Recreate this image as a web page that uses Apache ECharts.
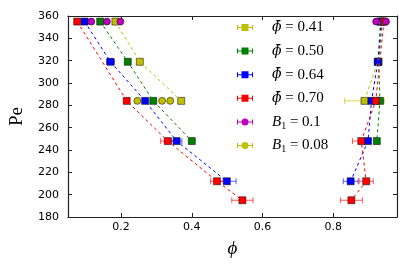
<!DOCTYPE html>
<html><head><meta charset="utf-8">
<script src="https://cdn.jsdelivr.net/npm/echarts@6/dist/echarts.min.js"></script>
<style>html,body{margin:0;padding:0;background:#fff}#c{width:407px;height:271px}</style>
</head><body><div id="c"></div>
<script>
// ---- data ----
const xTickValues = [0.2, 0.4, 0.6, 0.8];
const xMin = 0.05, xMax = 0.98;
const yMin = 180, yMax = 360, yStep = 20;

// phi_bar = 0.41 (yellow squares)
const pe041 = [355, 319, 284];
const left041 = [0.184, 0.253, 0.370];
const leftErr041 = [0.004, 0.004, 0.005];
const right041 = [0.932, 0.926, 0.888];
const rightErr041 = [0.004, 0.006, 0.056];

// phi_bar = 0.50 (green squares)
const pe050 = [355, 319, 284, 248];
const left050 = [0.141, 0.219, 0.291, 0.400];
const leftErr050 = [0.004, 0.004, 0.005, 0.006];
const right050 = [0.938, 0.928, 0.932, 0.923];
const rightErr050 = [0.004, 0.006, 0.006, 0.006];

// phi_bar = 0.64 (blue squares)
const pe064 = [355, 319, 284, 248, 212];
const left064 = [0.097, 0.170, 0.268, 0.357, 0.499];
const leftErr064 = [0.004, 0.011, 0.006, 0.015, 0.026];
const right064 = [0.935, 0.926, 0.908, 0.898, 0.849];
const rightErr064 = [0.004, 0.010, 0.006, 0.008, 0.021];

// phi_bar = 0.70 (red squares)
const pe070 = [355, 284, 248, 212, 195];
const left070 = [0.076, 0.216, 0.332, 0.471, 0.543];
const leftErr070 = [0.004, 0.006, 0.020, 0.018, 0.030];
const right070 = [0.943, 0.920, 0.879, 0.893, 0.851];
const rightErr070 = [0.004, 0.010, 0.025, 0.020, 0.031];

// B1 = 0.1 (magenta circles)
const peB10 = [355, 355, 355, 355, 355];
const phiB10 = [0.116, 0.160, 0.198, 0.921, 0.949];
const errB10 = [0.004, 0.004, 0.004, 0.004, 0.004];

// B1 = 0.08 (olive circles)
const peB08 = [284, 284, 284];
const phiB08 = [0.246, 0.316, 0.339];
const errB08 = [0.004, 0.004, 0.004];

const groups = [
  {key: 'p041', color: '#bfbf00', pe: pe041, left: left041, le: leftErr041, right: right041, re: rightErr041},
  {key: 'p050', color: '#008000', pe: pe050, left: left050, le: leftErr050, right: right050, re: rightErr050},
  {key: 'p064', color: '#0000ff', pe: pe064, left: left064, le: leftErr064, right: right064, re: rightErr064},
  {key: 'p070', color: '#ff0000', pe: pe070, left: left070, le: leftErr070, right: right070, re: rightErr070}
];
const circleGroups = [
  {key: 'b010', color: '#bf00bf', pe: peB10, phi: phiB10, err: errB10},
  {key: 'b008', color: '#bfbf00', pe: peB08, phi: phiB08, err: errB08}
];

const legendLabels = {
  p041: '{ph|ϕ̄}{t| = 0.41}',
  p050: '{ph|ϕ̄}{t| = 0.50}',
  p064: '{ph|ϕ̄}{t| = 0.64}',
  p070: '{ph|ϕ̄}{t| = 0.70}',
  b010: '{B|B}{s|1}{t| = 0.1}',
  b008: '{B|B}{s|1}{t| = 0.08}'
};

// ---- helpers ----
function zip3(xs, ys, es) { return xs.map((x, i) => [x, ys[i], es[i]]); }
function zip2(xs, ys) { return xs.map((x, i) => [x, ys[i]]); }

function errRender(params, api) {
  const x = api.value(0), y = api.value(1), e = api.value(2);
  const a = api.coord([x - e, y]), b = api.coord([x + e, y]);
  const c = api.visual('color');
  const h = 3;
  const st = {stroke: c, lineWidth: 1, opacity: 0.65};
  return {type: 'group', children: [
    {type: 'line', shape: {x1: a[0], y1: a[1], x2: b[0], y2: b[1]}, style: st},
    {type: 'line', shape: {x1: a[0], y1: a[1] - h, x2: a[0], y2: a[1] + h}, style: st},
    {type: 'line', shape: {x1: b[0], y1: b[1] - h, x2: b[0], y2: b[1] + h}, style: st}
  ]};
}

const series = [];
groups.forEach(g => {
  [g.left, g.right].forEach((xs, k) => {
    series.push({
      name: g.key + '_line' + k, type: 'line', data: zip2(xs, g.pe),
      showSymbol: false, symbol: 'none', silent: true,
      lineStyle: {color: g.color, width: 1, type: [3, 3]}
    });
  });
  series.push({
    name: g.key + '_err', type: 'custom', renderItem: errRender,
    itemStyle: {color: g.color}, encode: {x: 0, y: 1},
    data: zip3(g.left, g.pe, g.le).concat(zip3(g.right, g.pe, g.re)), silent: true
  });
  series.push({
    name: g.key, type: 'scatter', symbol: 'rect', symbolSize: 7,
    itemStyle: {color: g.color, borderColor: '#000', borderWidth: 0.5, opacity: 1},
    data: zip2(g.left, g.pe).concat(zip2(g.right, g.pe))
  });
});
circleGroups.forEach(g => {
  series.push({
    name: g.key + '_err', type: 'custom', renderItem: errRender,
    itemStyle: {color: g.color}, encode: {x: 0, y: 1},
    data: zip3(g.phi, g.pe, g.err), silent: true
  });
  series.push({
    name: g.key, type: 'scatter', symbol: 'circle', symbolSize: 7,
    itemStyle: {color: g.color, borderColor: '#000', borderWidth: 0.5, opacity: 1},
    data: zip2(g.phi, g.pe)
  });
});

const sqIcon = 'path://M0,1.5h1v5h-1z M15,1.5h1v5h-1z M0,3.5h16v1h-16z M4.5,0.5h7v7h-7z';
const ciIcon = 'path://M0,1.5h1v5h-1z M15,1.5h1v5h-1z M0,3.5h16v1h-16z M11.5,4a3.5,3.5 0 1,1 -7,0a3.5,3.5 0 1,1 7,0z';

const axisCol = '#222';
const serif = 'Liberation Serif, DejaVu Serif, serif';

const option = {
  animation: false,
  backgroundColor: '#fff',
  grid: {left: 64, right: 10, top: 16, bottom: 54, containLabel: false},
  legend: {
    orient: 'vertical', left: 237, top: 18.5, padding: 0, itemGap: 5.6,
    itemWidth: 16, itemHeight: 7,
    data: groups.map(g => ({name: g.key, icon: sqIcon, itemStyle: {borderWidth: 0}}))
      .concat(circleGroups.map(g => ({name: g.key, icon: ciIcon, itemStyle: {borderWidth: 0}}))),
    formatter: n => legendLabels[n],
    selectedMode: false,
    textStyle: {
      color: '#000', fontSize: 15, lineHeight: 18, height: 18,
      rich: {
        ph: {fontFamily: 'DejaVu Serif', fontStyle: 'italic', fontSize: 14, height: 18, lineHeight: 18, padding: [0, 0, 0, 14], color: '#000'},
        B: {fontFamily: serif, fontStyle: 'italic', fontSize: 15, height: 18, lineHeight: 18, padding: [0, 0, 0, 14], color: '#000'},
        s: {fontFamily: serif, fontSize: 10, lineHeight: 10, verticalAlign: 'bottom', color: '#000'},
        t: {fontFamily: serif, fontSize: 15, height: 18, lineHeight: 18, color: '#000'}
      }
    }
  },
  xAxis: [
    {
      type: 'value', min: xMin, max: xMax, position: 'bottom',
      name: 'ϕ', nameLocation: 'middle', nameGap: 22,
      nameTextStyle: {fontFamily: serif, fontStyle: 'italic', fontSize: 19, color: '#000'},
      axisLine: {show: true, onZero: false, lineStyle: {color: axisCol, width: 1.2}},
      axisTick: {show: true, inside: true, length: 4, customValues: xTickValues, lineStyle: {color: axisCol}},
      axisLabel: {show: true, customValues: xTickValues, margin: 5, color: '#000',
        fontFamily: 'DejaVu Sans', fontSize: 11, formatter: v => v.toFixed(1)},
      splitLine: {show: false}
    },
    {
      type: 'value', min: xMin, max: xMax, position: 'top',
      axisLine: {show: true, onZero: false, lineStyle: {color: axisCol, width: 1.2}},
      axisTick: {show: true, inside: true, length: 4, customValues: xTickValues, lineStyle: {color: axisCol}},
      axisLabel: {show: false}, splitLine: {show: false}
    }
  ],
  yAxis: [
    {
      type: 'value', min: yMin, max: yMax, interval: yStep, position: 'left',
      name: 'Pe', nameLocation: 'middle', nameGap: 41,
      nameTextStyle: {fontFamily: serif, fontSize: 19, color: '#000'},
      axisLine: {show: true, onZero: false, lineStyle: {color: axisCol, width: 1.2}},
      axisTick: {show: true, inside: true, length: 4, lineStyle: {color: axisCol}},
      axisLabel: {show: true, margin: 9, color: '#000', fontFamily: 'DejaVu Sans', fontSize: 11},
      splitLine: {show: false}
    },
    {
      type: 'value', min: yMin, max: yMax, interval: yStep, position: 'right',
      axisLine: {show: true, onZero: false, lineStyle: {color: axisCol, width: 1.2}},
      axisTick: {show: true, inside: true, length: 4, lineStyle: {color: axisCol}},
      axisLabel: {show: false}, splitLine: {show: false}
    }
  ],
  series: series
};

const chart = echarts.init(document.getElementById('c'), null, {renderer: 'canvas'});
chart.setOption(option);
</script>
</body></html>
